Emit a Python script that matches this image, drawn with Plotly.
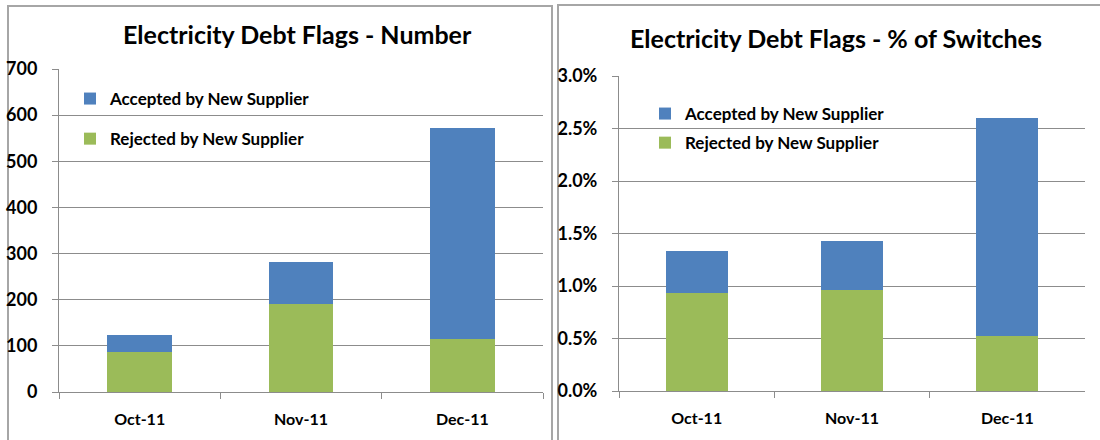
import plotly.graph_objects as go

# Monthly electricity debt flags, split by new-supplier outcome
months = ["Oct-11", "Nov-11", "Dec-11"]
rejected_number = [87, 190, 115]
accepted_number = [37, 92, 458]
rejected_pct = [0.0093, 0.0096, 0.0052]
accepted_pct = [0.0040, 0.0047, 0.0208]

left_title = "Electricity Debt Flags - Number"
right_title = "Electricity Debt Flags - % of Switches"
accepted_name = "Accepted by New Supplier"
rejected_name = "Rejected by New Supplier"

BLUE = "#4F81BD"
GREEN = "#9BBB59"
GRID = "#8c8c8c"
FONT = "Lato"

W, H = 1100, 440


def px_x(v):
    return v / W


def px_y(v):
    return 1 - v / H


fig = go.Figure()

# Left panel: counts
fig.add_trace(go.Bar(x=months, y=rejected_number, name=rejected_name, marker_color=GREEN,
                     marker_line_width=0, width=0.4, xaxis="x", yaxis="y",
                     legend="legend", legendgroup="rej1", legendrank=2))
fig.add_trace(go.Bar(x=months, y=accepted_number, name=accepted_name, marker_color=BLUE,
                     marker_line_width=0, width=0.4, xaxis="x", yaxis="y",
                     legend="legend", legendgroup="acc1", legendrank=1))

# Right panel: share of switches
fig.add_trace(go.Bar(x=months, y=rejected_pct, name=rejected_name, marker_color=GREEN,
                     marker_line_width=0, width=0.4, xaxis="x2", yaxis="y2",
                     legend="legend2", legendgroup="rej2", legendrank=2))
fig.add_trace(go.Bar(x=months, y=accepted_pct, name=accepted_name, marker_color=BLUE,
                     marker_line_width=0, width=0.4, xaxis="x2", yaxis="y2",
                     legend="legend2", legendgroup="acc2", legendrank=1))

tick_font = dict(family=FONT, size=18, color="#000000", weight="bold")
xtick_font = dict(family=FONT, size=16, color="#000000", weight="bold")

common_x = dict(type="category", showgrid=False, showline=True, linecolor=GRID, linewidth=1,
                ticks="outside", ticklen=6, tickcolor=GRID, tickson="boundaries",
                tickfont=xtick_font, ticklabelstandoff=13, fixedrange=True, automargin=False)
common_y = dict(showgrid=True, gridcolor=GRID, gridwidth=1, showline=True, linecolor=GRID,
                linewidth=1, ticks="outside", ticklen=6, tickcolor=GRID, zeroline=False,
                tickfont=tick_font, ticklabelstandoff=11, fixedrange=True, automargin=False)

legend_common = dict(bgcolor="rgba(0,0,0,0)", borderwidth=0, traceorder="grouped",
                     font=dict(family=FONT, size=17, color="#000000", weight="bold"),
                     xanchor="left", yanchor="top", itemclick=False, itemdoubleclick=False)

fig.update_layout(
    width=W, height=H,
    margin=dict(l=0, r=0, t=0, b=0, autoexpand=False),
    paper_bgcolor="white", plot_bgcolor="white",
    barmode="stack",
    xaxis=dict(domain=[px_x(59), px_x(543)], anchor="y", **common_x),
    yaxis=dict(domain=[px_y(392), px_y(69)], anchor="x", range=[0, 700], dtick=100, **common_y),
    xaxis2=dict(domain=[px_x(619), px_x(1085)], anchor="y2", **common_x),
    yaxis2=dict(domain=[px_y(391), px_y(76)], anchor="x2", range=[0, 0.03], dtick=0.005,
                tickformat=".1%", **common_y),
    legend=dict(x=px_x(70), y=px_y(81), tracegroupgap=15, **legend_common),
    legend2=dict(x=px_x(645), y=px_y(96), tracegroupgap=4, **legend_common),
    showlegend=True,
    annotations=[
        dict(text=left_title, x=px_x(297), y=px_y(34), xref="paper", yref="paper",
             xanchor="center", yanchor="middle", showarrow=False,
             font=dict(family=FONT, size=25, color="#000000", weight="bold")),
        dict(text=right_title, x=px_x(836), y=px_y(38), xref="paper", yref="paper",
             xanchor="center", yanchor="middle", showarrow=False,
             font=dict(family=FONT, size=25, color="#000000", weight="bold")),
    ],
    shapes=[
        dict(type="rect", xref="paper", yref="paper", x0=px_x(8), x1=px_x(552),
             y0=px_y(460), y1=px_y(6), line=dict(color="#a6a6a6", width=2), layer="below"),
        dict(type="rect", xref="paper", yref="paper", x0=px_x(558), x1=px_x(1120),
             y0=px_y(460), y1=px_y(5), line=dict(color="#a6a6a6", width=2), layer="below"),
    ],
)

fig.write_html("out.html")
